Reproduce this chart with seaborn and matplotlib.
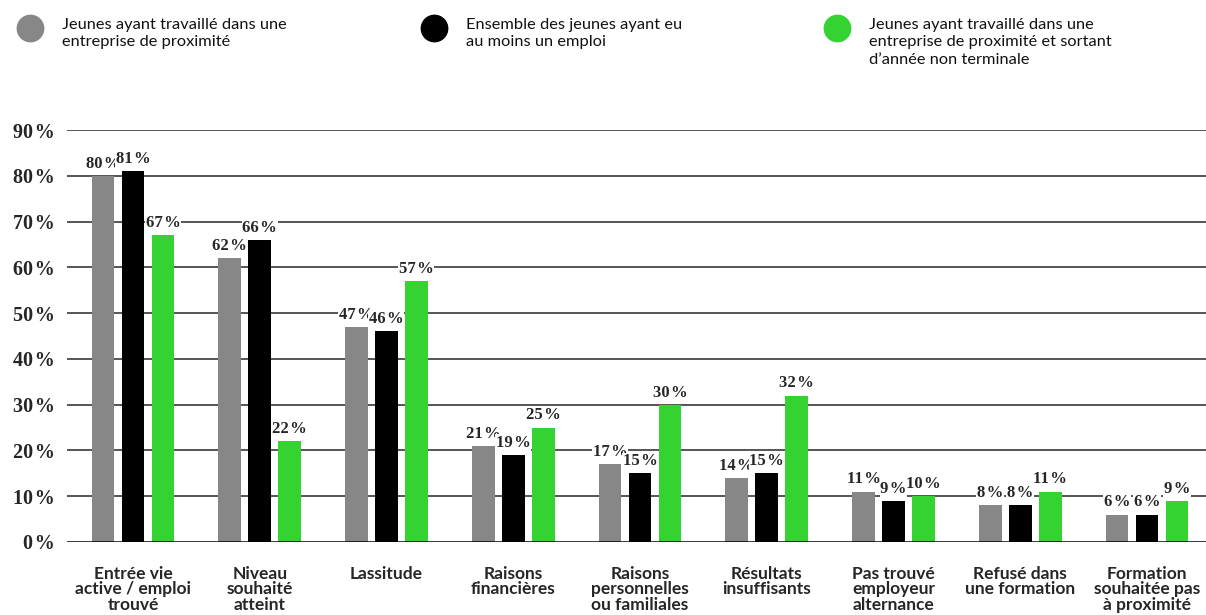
import matplotlib
matplotlib.use("Agg")
import matplotlib.pyplot as plt
import seaborn as sns
import pandas as pd
from matplotlib.lines import Line2D

categories = [
    "Entrée vie\nactive / emploi\ntrouvé",
    "Niveau\nsouhaité\natteint",
    "Lassitude",
    "Raisons\nfinancières",
    "Raisons\npersonnelles\nou familiales",
    "Résultats\ninsuffisants",
    "Pas trouvé\nemployeur\nalternance",
    "Refusé dans\nune formation",
    "Formation\nsouhaitée pas\nà proximité",
]
series_names = [
    "Jeunes ayant travaillé dans une\nentreprise de proximité",
    "Ensemble des jeunes ayant eu\nau moins un emploi",
    "Jeunes ayant travaillé dans une\nentreprise de proximité et sortant\nd’année non terminale",
]
proximite = [80, 62, 47, 21, 17, 14, 11, 8, 6]
ensemble = [81, 66, 46, 19, 15, 15, 9, 8, 6]
non_terminale = [67, 22, 57, 25, 30, 32, 10, 11, 9]
yticks = [0, 10, 20, 30, 40, 50, 60, 70, 80, 90]
colors = ["#878787", "#000000", "#35d332"]

rows = []
for name, vals in zip(series_names, [proximite, ensemble, non_terminale]):
    for c, v in zip(categories, vals):
        rows.append({"cat": c, "serie": name, "val": v})
df = pd.DataFrame(rows)

sns.set_theme(style="white")
fig = plt.figure(figsize=(12.06, 6.15), dpi=100)
ax = fig.add_axes([0.0556, 0.1187, 0.9444, 0.6699])

sns.barplot(data=df, x="cat", y="val", hue="serie", order=categories,
            hue_order=series_names, palette=colors, width=0.71, gap=0.24,
            ax=ax, legend=False, saturation=1, linewidth=0, zorder=3)

ax.set_ylim(0, 90)
ax.set_xlim(-0.52, 8.466)
ax.set_yticks(yticks)
ax.set_yticklabels([f"{t}\u200a%" for t in yticks], fontfamily="Liberation Serif",
                   fontweight="bold", fontsize=14.5)
ax.set_xticks(range(len(categories)))
ax.set_xticklabels(categories, fontfamily="Lato", fontweight="bold", fontsize=12.5,
                   linespacing=0.98)
ax.tick_params(axis="x", length=0, pad=17)
ax.tick_params(axis="y", length=0, pad=9)
ax.set_xlabel("")
ax.set_ylabel("")
for t in yticks[1:]:
    ax.axhline(t, color="#555555", lw=1.4, zorder=1)
ax.axhline(0, color="#000000", lw=1.8, zorder=4)
for s in ax.spines.values():
    s.set_visible(False)
ax.grid(False)

for cont in ax.containers:
    ax.bar_label(cont, labels=[f"{int(v)}\u200a%" for v in cont.datavalues],
                 padding=3, fontfamily="Liberation Serif", fontweight="bold",
                 fontsize=12, zorder=5,
                 bbox=dict(facecolor="white", edgecolor="none", pad=0.5))

# legend
leg_x = [30, 434, 837]
for x, col, name in zip(leg_x, colors, series_names):
    fig.add_artist(Line2D([x / 1206], [1 - 28 / 615], marker="o", markersize=19,
                          color=col, linestyle="none", transform=fig.transFigure))
    fig.text((x + 32) / 1206, 1 - 18 / 615, name, fontfamily="Lato", fontsize=11.8,
             va="top", ha="left", linespacing=1.3, color="#111111")

fig.savefig("out.png", dpi=100)
